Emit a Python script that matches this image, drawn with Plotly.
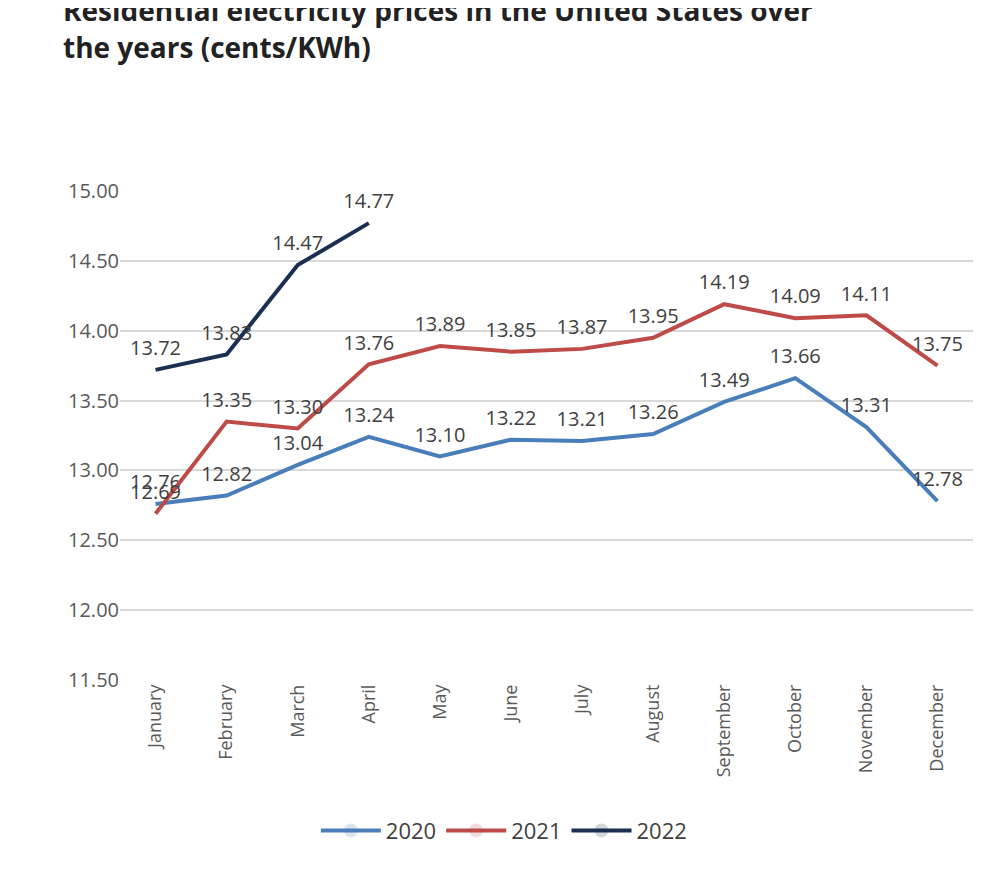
import plotly.graph_objects as go

months = ["January","February","March","April","May","June","July","August","September","October","November","December"]
y2020 = [12.76, 12.82, 13.04, 13.24, 13.10, 13.22, 13.21, 13.26, 13.49, 13.66, 13.31, 12.78]
y2021 = [12.69, 13.35, 13.30, 13.76, 13.89, 13.85, 13.87, 13.95, 14.19, 14.09, 14.11, 13.75]
y2022 = [13.72, 13.83, 14.47, 14.77]
yticks = [11.5, 12.0, 12.5, 13.0, 13.5, 14.0, 14.5, 15.0]

fig = go.Figure()
for name, ys, col in [("2020", y2020, "#4a7ebb"), ("2021", y2021, "#be4b48"), ("2022", y2022, "#1a2f52")]:
    fig.add_trace(go.Scatter(x=months[:len(ys)], y=ys, name=name, mode="lines+markers+text",
                             line=dict(color=col, width=4), marker=dict(size=14, opacity=0),
                             text=[f"{v:.2f}" for v in ys], textposition="top center",
                             textfont=dict(size=20, color="#404040"), cliponaxis=False))

ph = 883 - 183 - 211
fig.update_layout(
    width=1000, height=883, plot_bgcolor="white", paper_bgcolor="white",
    font=dict(family="Open Sans", color="#595959"),
    margin=dict(l=112, r=35, t=183, b=211),
    title=dict(text="<b>Residential electricity prices in the United States over<br>the years (cents/KWh)</b>",
               x=0.055, xanchor="left", yref="container", y=0.985, yanchor="top",
               font=dict(size=28, color="#222222", family="Open Sans")),
    xaxis=dict(tickangle=-90, tickfont=dict(size=18), showgrid=False, showline=False, ticks="",
               range=[-0.5, 11.5]),
    yaxis=dict(range=[11.5, 15.0], tickvals=yticks, tickformat=".2f", tickfont=dict(size=20),
               showgrid=True, gridcolor="#d9d9d9", gridwidth=1.5, zeroline=False, automargin=False),
    legend=dict(orientation="h", x=0.45, xanchor="center", y=-0.265, yanchor="top",
                font=dict(size=22, color="#404040"), itemwidth=60),
    showlegend=True,
    shapes=[dict(type="line", xref="paper", yref="paper", x0=-112/853, x1=(790-112)/853,
                 y0=-(211-5)/ph, y1=-(211-5)/ph, line=dict(color="#f0b050", width=2))],
)
fig.write_html("out.html")
